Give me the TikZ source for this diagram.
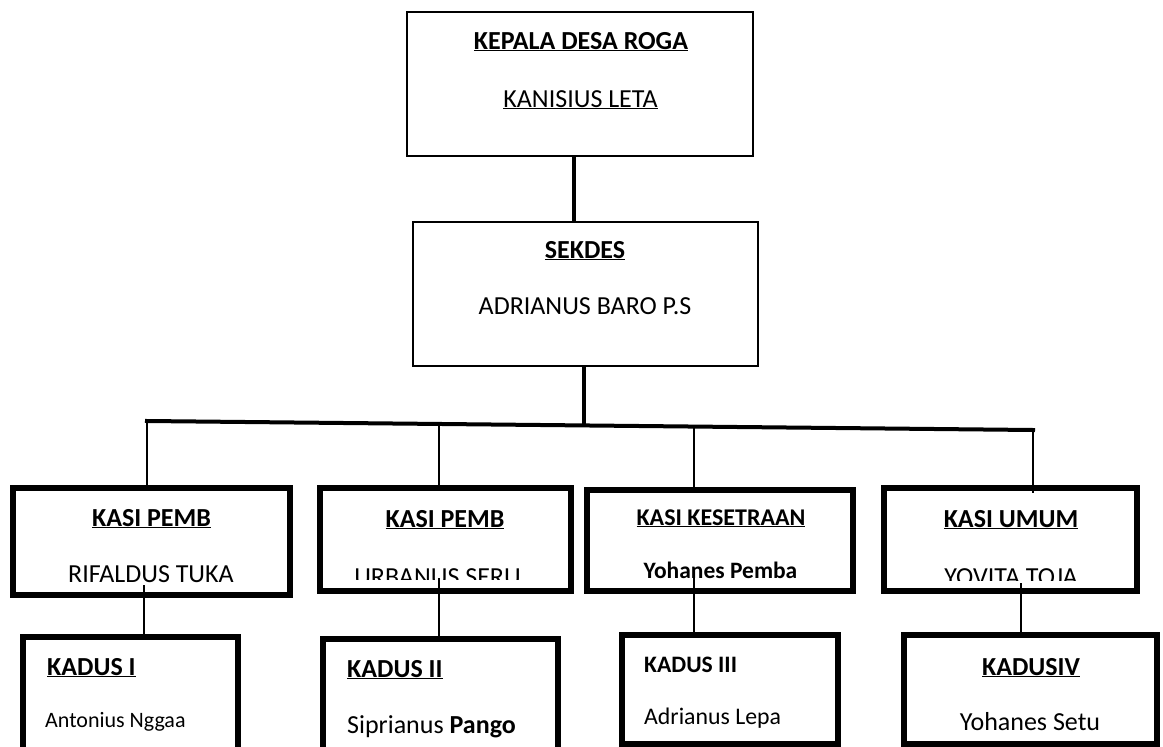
\documentclass[tikz,border=0pt]{standalone}
\usepackage{fontspec}
\setmainfont{Carlito}
\begin{document}
\begin{tikzpicture}[x=1pt,y=-1pt,
  boxthin/.style={draw, line width=2pt, inner sep=0pt, outer sep=0pt},
  boxthick/.style={draw, line width=6pt, inner sep=0pt, outer sep=0pt},
  thinline/.style={line width=1.7pt},
  thickline/.style={line width=4pt},
  ttl/.style={font=\fontsize{26}{30}\selectfont\bfseries, anchor=base, inner sep=0pt},
  nm/.style={font=\fontsize{26}{30}\selectfont, anchor=base, inner sep=0pt},
  ttlleft/.style={ttl, anchor=base west},
  nmleft/.style={nm, anchor=base west}]
\useasboundingbox (0,0) rectangle (1163,747);
\clip (0,0) rectangle (1163,747);
\fill[white] (0,0) rectangle (1163,747);

% boxes
\node[boxthin, minimum width=346pt, minimum height=144pt] (top) at (580,84) {};
\node[boxthin, minimum width=345pt, minimum height=144pt] (sekdes) at (585.5,294) {};
\node[boxthick, minimum width=277pt, minimum height=107pt] (kasi1) at (151.5,541.5) {};
\node[boxthick, minimum width=251pt, minimum height=103pt] (kasi2) at (445.5,539.5) {};
\node[boxthick, minimum width=266pt, minimum height=101pt] (kasi3) at (720,540.5) {};
\node[boxthick, minimum width=253pt, minimum height=103pt] (kasi4) at (1010.5,539.5) {};
\node[boxthick, minimum width=215pt, minimum height=143pt] (kadus1) at (130.5,708.5) {};
\node[boxthick, minimum width=235pt, minimum height=141pt] (kadus2) at (440.5,709.5) {};
\node[boxthick, minimum width=216pt, minimum height=109pt] (kadus3) at (730,689.5) {};
\node[boxthick, minimum width=253pt, minimum height=109pt] (kadus4) at (1030.5,689.5) {};

% texts
\node[ttl] (t1) at (581,49) {\underline{KEPALA DESA ROGA}};
\node[nm] (n1) at (580.5,107) {\underline{KANISIUS LETA}};
\node[ttl] (t2) at (585,258) {\underline{SEKDES}};
\node[nm] (n2) at (585,314) {ADRIANUS BARO P.S};
\node[ttl] (t3) at (151.5,526) {\underline{KASI PEMB}};
\node[nm] (n3) at (151,582) {RIFALDUS TUKA};
\node[ttl] (t4) at (445,527) {\underline{KASI PEMB}};
\begin{scope}
  \clip (322,555) rectangle (569,579);
  \node[nm] (n4) at (437.5,585) {URBANUS SERU};
\end{scope}
\node[ttl, font=\fontsize{24}{28}\selectfont\bfseries] (t5) at (721,525) {\underline{KASI KESETRAAN}};
\node[ttl, font=\fontsize{23.5}{28}\selectfont\bfseries] (n5) at (720.5,578) {Yohanes Pemba};
\node[ttl] (t6) at (1011,527) {\underline{KASI UMUM}};
\begin{scope}
  \clip (886,555) rectangle (1135,580);
  \node[nm] (n6) at (1011,585) {YOVITA TOJA};
\end{scope}
\node[ttlleft] (t7) at (47,675) {\underline{KADUS I}};
\node[nmleft, font=\fontsize{22}{26}\selectfont] (n7) at (45,727) {Antonius Nggaa};
\node[ttlleft] (t8) at (347,677) {\underline{KADUS II}};
\node[nmleft] (n8) at (347,733) {Siprianus \textbf{Pango}};
\node[ttlleft, font=\fontsize{23.6}{28}\selectfont\bfseries] (t9) at (644,672) {KADUS III};
\node[nmleft, font=\fontsize{23.8}{28}\selectfont] (n9) at (644,724) {Adrianus Lepa};
\node[ttl] (t10) at (1031,675) {\underline{KADUSIV}};
\node[nm] (n10) at (1030,730) {Yohanes Setu};

% connector coordinates
\coordinate (c1) at (574,0);
\coordinate (barL) at (147,421);
\coordinate (barR) at (1033,430);
\path (barL) -- (barR)
  coordinate[pos=0.4932] (bS)
  coordinate[pos=0.3296] (b2)
  coordinate[pos=0.6174] (b3);
\coordinate (k1s) at (144,585);
\coordinate (k2s) at (439,578);
\coordinate (k3s) at (694,577);
\coordinate (k4s) at (1021,583);
\coordinate (d4) at (1033,493);

% connectors
\draw[thickline] (top.south -| c1) -- (sekdes.north -| c1);
\draw[thickline] (sekdes.south -| bS) -- (bS);
\draw[thickline, line cap=rect] (barL) -- (barR);
\draw[thinline] (barL) -- (kasi1.north -| barL);
\draw[thinline] (b2) -- (kasi2.north -| b2);
\draw[thinline] (b3) -- (kasi3.north -| b3);
\draw[thinline] (barR) -- (d4);
\draw[thinline] (k1s) -- (kadus1.north -| k1s);
\draw[thinline] (k2s) -- (kadus2.north -| k2s);
\draw[thinline] (k3s) -- (kadus3.north -| k3s);
\draw[thinline] (k4s) -- (kadus4.north -| k4s);
\end{tikzpicture}
\end{document}
